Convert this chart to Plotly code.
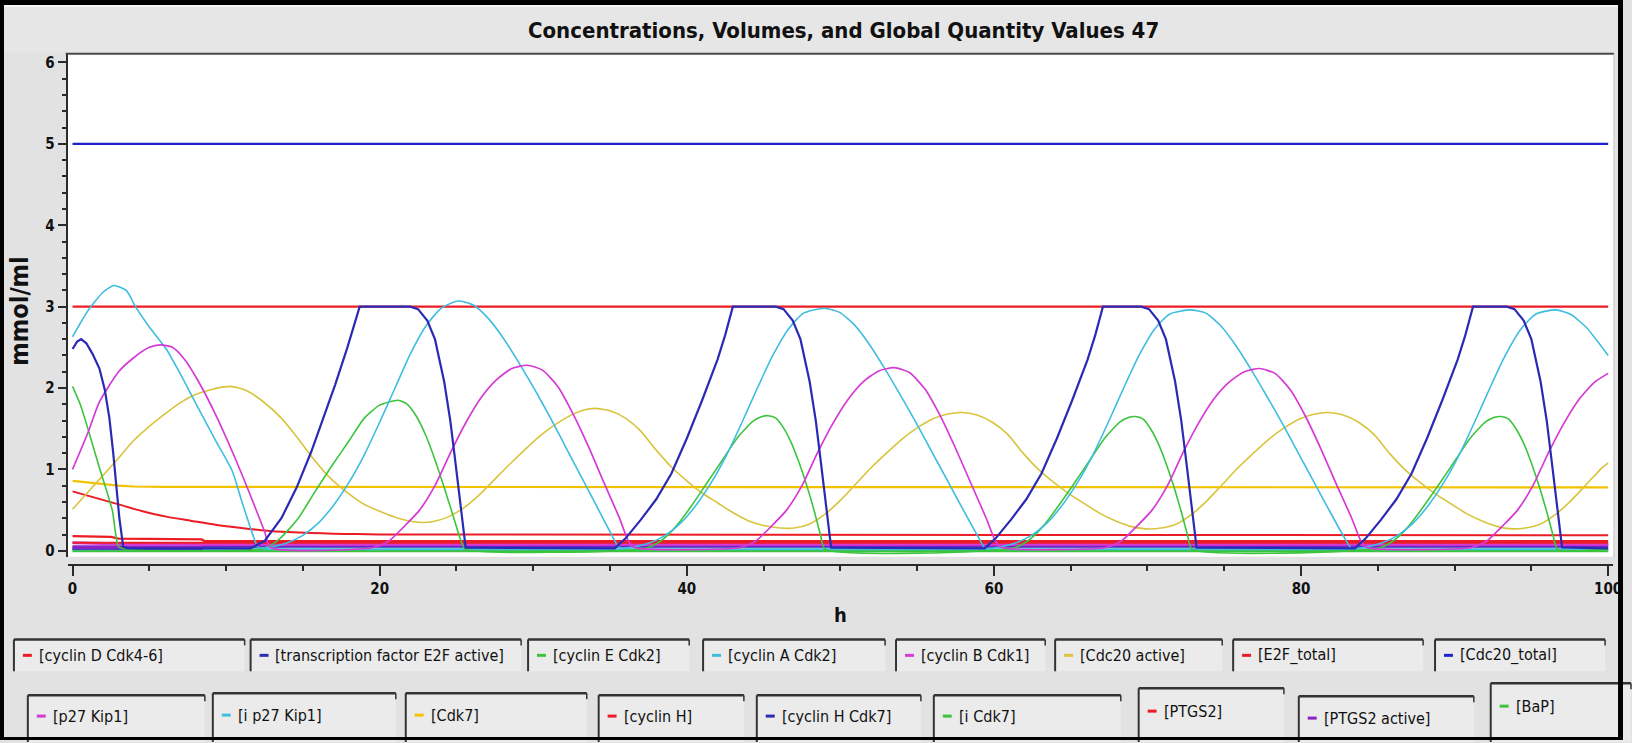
import plotly.graph_objects as go

# ---------------- time courses (h, mmol/ml) ----------------
t_cycd = [0, 1.5, 3, 4.5, 6.1, 7.7, 9.3, 11, 12.5, 14, 15.5, 17, 18.5, 20, 22, 100]
y_cycd = [0.73, 0.65, 0.57, 0.49, 0.42, 0.37, 0.32, 0.28, 0.25, 0.23, 0.22, 0.21, 0.205, 0.2, 0.2, 0.19]

t_e2f = [0, 0.3, 0.56, 0.9, 1.3, 1.75, 2.1, 2.4, 2.65, 2.83, 3.05, 3.3, 3.6, 11.6,
         12.5, 13.6, 14.6, 15.55, 16.3, 17.1, 17.9, 18.7, 22.0, 22.5, 23.1, 23.6, 24.2, 24.6, 24.9, 25.3, 25.6,
         35.3, 36.0, 37.0, 38.0, 39.0, 40.0, 41.0, 42.0, 42.5, 43.0, 45.8, 46.3, 46.9, 47.4, 48.0, 48.4, 48.7, 49.1, 49.4,
         59.4, 60.1, 61.1, 62.1, 63.1, 64.1, 65.1, 66.1, 66.6, 67.1, 69.6, 70.1, 70.7, 71.2, 71.8, 72.2, 72.5, 72.9, 73.2,
         83.5, 84.2, 85.2, 86.2, 87.2, 88.2, 89.2, 90.2, 90.7, 91.2, 93.4, 93.9, 94.5, 95.0, 95.6, 96.0, 96.3, 96.7, 97.0, 100]
y_e2f = [2.48, 2.57, 2.6, 2.55, 2.42, 2.24, 1.98, 1.63, 1.2, 0.81, 0.4, 0.05, 0.03, 0.03,
         0.12, 0.4, 0.78, 1.22, 1.62, 2.04, 2.5, 3.0, 3.0, 2.97, 2.83, 2.6, 2.08, 1.6, 1.14, 0.5, 0.04,
         0.03, 0.15, 0.38, 0.63, 0.95, 1.38, 1.85, 2.35, 2.65, 3.0, 3.0, 2.97, 2.83, 2.6, 2.08, 1.6, 1.14, 0.5, 0.04,
         0.03, 0.15, 0.38, 0.63, 0.95, 1.38, 1.85, 2.35, 2.65, 3.0, 3.0, 2.97, 2.83, 2.6, 2.08, 1.6, 1.14, 0.5, 0.04,
         0.03, 0.15, 0.38, 0.63, 0.95, 1.38, 1.85, 2.35, 2.65, 3.0, 3.0, 2.97, 2.83, 2.6, 2.08, 1.6, 1.14, 0.5, 0.04, 0.03]

t_cyce = [0, 0.5, 1, 1.75, 2.2, 2.6, 3.0, 3.5, 12.5, 13.5, 14.7, 15.7, 16.8, 18, 19, 20, 21.2, 21.8, 22.4, 23,
          23.6, 24.2, 24.8, 25.3, 25.6, 37.3, 38.3, 39.3, 40.3, 41.3, 42.3, 43.3, 44.3, 44.9, 45.3, 45.8, 46.3,
          46.8, 47.3, 47.8, 48.3, 48.7, 49.0, 61.2, 62.2, 63.2, 64.2, 65.2, 66.2, 67.2, 68.2, 68.8, 69.2, 69.7,
          70.2, 70.7, 71.2, 71.7, 72.2, 72.6, 72.9, 85.0, 86.0, 87.0, 88.0, 89.0, 90.0, 91.0, 92.0, 92.6, 93.0,
          93.5, 94.0, 94.5, 95.0, 95.5, 96.0, 96.4, 96.7, 100]
y_cyce = [2.02, 1.8, 1.5, 1.02, 0.75, 0.49, 0.05, 0.02, 0.03, 0.15, 0.4, 0.7, 1.02, 1.35, 1.63, 1.79, 1.85, 1.8,
          1.65, 1.42, 1.12, 0.78, 0.42, 0.12, 0.02, 0.03, 0.12, 0.3, 0.55, 0.83, 1.11, 1.39, 1.59, 1.65, 1.66,
          1.63, 1.51, 1.33, 1.09, 0.81, 0.49, 0.2, 0.02, 0.03, 0.12, 0.3, 0.55, 0.82, 1.1, 1.38, 1.58, 1.64, 1.65,
          1.62, 1.5, 1.32, 1.08, 0.8, 0.48, 0.2, 0.02, 0.03, 0.12, 0.3, 0.55, 0.82, 1.1, 1.38, 1.58, 1.64, 1.65,
          1.62, 1.5, 1.32, 1.08, 0.8, 0.48, 0.2, 0.02, 0.02]

t_cyca = [0, 1, 2, 2.7, 3.5, 4.1, 5, 6.1, 7, 8.2, 9.3, 10.4, 11, 11.7, 12.1, 13, 14, 15, 16, 17, 18, 19, 20,
          21, 22, 23, 24, 25.1, 26.1, 27.1, 28.1, 29.1, 30.1, 31.1, 32.1, 33.1, 34.1, 35.1, 35.6, 36.6, 37.6,
          38.6, 39.6, 40.6, 41.6, 42.6, 43.6, 44.6, 45.6, 46.6, 47.6, 48.95, 49.95, 50.95, 51.95, 52.95, 53.95,
          54.95, 55.95, 56.95, 57.95, 58.95, 59.45, 60.45, 61.45, 62.45, 63.45, 64.45, 65.45, 66.45, 67.45,
          68.45, 69.45, 70.45, 71.45, 72.8, 73.8, 74.8, 75.8, 76.8, 77.8, 78.8, 79.8, 80.8, 81.8, 82.8, 83.3,
          84.3, 85.3, 86.3, 87.3, 88.3, 89.3, 90.3, 91.3, 92.3, 93.3, 94.3, 95.3, 96.6, 97.6, 98.6, 100]
y_cyca = [2.63, 2.95, 3.18, 3.26, 3.2, 3.0, 2.75, 2.48, 2.18, 1.75, 1.36, 0.98, 0.62, 0.22, 0.04, 0.05, 0.1,
          0.19, 0.34, 0.56, 0.84, 1.18, 1.58, 2.0, 2.42, 2.76, 2.98, 3.07, 3.02, 2.85, 2.6, 2.3, 1.98, 1.64, 1.28,
          0.92, 0.56, 0.2, 0.04, 0.05, 0.1, 0.19, 0.34, 0.56, 0.84, 1.18, 1.58, 2.0, 2.4, 2.72, 2.92, 2.98, 2.93,
          2.77, 2.52, 2.22, 1.9, 1.57, 1.22, 0.87, 0.52, 0.18, 0.03, 0.05, 0.1, 0.19, 0.34, 0.56, 0.84, 1.18, 1.58,
          2.0, 2.4, 2.72, 2.91, 2.96, 2.92, 2.76, 2.51, 2.21, 1.89, 1.56, 1.21, 0.86, 0.51, 0.17, 0.03, 0.05, 0.1,
          0.19, 0.34, 0.56, 0.84, 1.18, 1.58, 2.0, 2.4, 2.72, 2.91, 2.96, 2.9, 2.74, 2.4]

t_cycb = [0, 1, 1.75, 3, 3.9, 5, 5.7, 6.5, 7.3, 8.2, 9.3, 10.4, 11.5, 12.5, 12.9, 19.6, 20.6, 21.6, 22.6, 23.6,
          24.6, 25.6, 26.6, 27.6, 28.6, 29.6, 30.6, 31.6, 32.6, 33.6, 34.6, 35.6, 36.2, 36.6, 43.5, 44.5, 45.5,
          46.5, 47.5, 48.5, 49.5, 50.5, 51.5, 52.5, 53.5, 54.5, 55.5, 56.5, 57.5, 58.5, 59.5, 60.1, 60.5, 67.3,
          68.3, 69.3, 70.3, 71.3, 72.3, 73.3, 74.3, 75.3, 76.3, 77.3, 78.3, 79.3, 80.3, 81.3, 82.3, 83.3, 83.9,
          84.3, 91.1, 92.1, 93.1, 94.1, 95.1, 96.1, 97.1, 98.1, 99.1, 100]
y_cycb = [1.0, 1.45, 1.83, 2.2, 2.36, 2.5, 2.53, 2.5, 2.35, 2.08, 1.68, 1.22, 0.72, 0.24, 0.04, 0.04, 0.12, 0.3,
          0.5, 0.8, 1.2, 1.57, 1.88, 2.1, 2.24, 2.28, 2.22, 2.02, 1.68, 1.28, 0.84, 0.41, 0.12, 0.04, 0.04, 0.12,
          0.3, 0.5, 0.8, 1.2, 1.56, 1.86, 2.08, 2.21, 2.25, 2.19, 1.99, 1.66, 1.26, 0.83, 0.4, 0.12, 0.04, 0.04,
          0.12, 0.3, 0.5, 0.8, 1.2, 1.56, 1.86, 2.07, 2.2, 2.24, 2.18, 1.98, 1.65, 1.25, 0.82, 0.4, 0.12, 0.04,
          0.04, 0.12, 0.3, 0.5, 0.8, 1.2, 1.56, 1.86, 2.07, 2.18]

t_cdc20a = [0, 1, 2, 3, 3.9, 5, 6, 7.1, 8, 9, 10.3, 11.3, 12.3, 13.6, 14.6, 15.6, 16.8, 18, 19, 20.2, 21.2, 22.5,
            23.5, 24.5, 25.5, 26.5, 27.5, 28.5, 29.5, 30.5, 31.5, 32.5, 33.3, 34.0, 35, 36, 37, 38, 39, 40, 41,
            42, 43, 44, 45, 46.1, 47, 48, 49, 50, 51, 52, 53, 54, 55, 56, 57, 57.9, 58.9, 59.9, 60.9, 61.9, 62.9,
            63.9, 64.9, 65.9, 66.9, 67.9, 68.9, 69.9, 70.9, 71.9, 72.9, 73.9, 74.9, 75.9, 76.9, 77.9, 78.9, 79.9,
            80.9, 81.75, 82.75, 83.75, 84.75, 85.75, 86.75, 87.75, 88.75, 89.75, 90.75, 91.75, 92.75, 93.75,
            94.6, 95.6, 96.6, 97.6, 98.6, 99.6, 100]
y_cdc20a = [0.51, 0.72, 0.93, 1.14, 1.34, 1.53, 1.68, 1.83, 1.92, 1.98, 2.02, 1.97, 1.85, 1.63, 1.4, 1.15, 0.89,
            0.7, 0.57, 0.47, 0.4, 0.35, 0.36, 0.42, 0.53, 0.69, 0.88, 1.07, 1.25, 1.42, 1.56, 1.67, 1.73, 1.75,
            1.72, 1.63, 1.47, 1.24, 1.03, 0.86, 0.71, 0.59, 0.47, 0.37, 0.31, 0.28, 0.28, 0.33, 0.45, 0.62, 0.82,
            1.02, 1.2, 1.37, 1.51, 1.62, 1.68, 1.7, 1.67, 1.58, 1.43, 1.2, 1.0, 0.84, 0.7, 0.58, 0.46, 0.37, 0.3,
            0.27, 0.28, 0.33, 0.45, 0.62, 0.82, 1.02, 1.2, 1.37, 1.51, 1.62, 1.68, 1.7, 1.67, 1.58, 1.43, 1.2, 1.0,
            0.84, 0.7, 0.58, 0.46, 0.37, 0.3, 0.27, 0.28, 0.33, 0.45, 0.62, 0.82, 1.02, 1.08]

t_e2f_total = [0, 100]
y_e2f_total = [3.0, 3.0]

t_cdc20_total = [0, 100]
y_cdc20_total = [5.0, 5.0]

t_p27 = [0, 2, 4, 8.4, 100]
y_p27 = [0.1, 0.09, 0.08, 0.08, 0.08]

t_ip27 = [0, 100]
y_ip27 = [0.02, 0.02]

t_cdk7 = [0, 1, 2, 3, 4, 6, 100]
y_cdk7 = [0.86, 0.84, 0.82, 0.8, 0.79, 0.785, 0.78]

t_cych = [0, 2.5, 3, 8.4, 8.6, 100]
y_cych = [0.18, 0.17, 0.15, 0.14, 0.12, 0.12]

t_cychcdk7 = [0, 8.4, 8.6, 100]
y_cychcdk7 = [0.035, 0.035, 0.06, 0.06]

t_icdk7 = [0, 100]
y_icdk7 = [0.01, 0.01]

t_ptgs2 = [0, 100]
y_ptgs2 = [0.1, 0.1]

t_ptgs2a = [0, 8.4, 8.6, 100]
y_ptgs2a = [0.045, 0.045, 0.075, 0.075]

t_bap = [0, 100]
y_bap = [0.0, 0.0]

# ---------------- series: name, colour, data, width ----------------
RED, BLUE, GREEN, CYAN, MAGENTA = "#ec1c24", "#2a2ab4", "#3cc43c", "#3fbde0", "#d63ad6"
YELLOW_OSC, YELLOW_FLAT = "#d9c43c", "#f2c200"

series = [
    ("cyclin D Cdk4-6", RED, t_cycd, y_cycd, 2.0),
    ("transcription factor E2F active", BLUE, t_e2f, y_e2f, 2.2),
    ("cyclin E Cdk2", GREEN, t_cyce, y_cyce, 1.6),
    ("cyclin A Cdk2", CYAN, t_cyca, y_cyca, 1.6),
    ("cyclin B Cdk1", MAGENTA, t_cycb, y_cycb, 1.7),
    ("Cdc20 active", YELLOW_OSC, t_cdc20a, y_cdc20a, 1.6),
    ("E2F_total", RED, t_e2f_total, y_e2f_total, 2.4),
    ("Cdc20_total", "#1f1fd0", t_cdc20_total, y_cdc20_total, 2.4),
    ("p27 Kip1", MAGENTA, t_p27, y_p27, 3.0),
    ("i p27 Kip1", CYAN, t_ip27, y_ip27, 2.0),
    ("Cdk7", YELLOW_FLAT, t_cdk7, y_cdk7, 2.2),
    ("cyclin H", RED, t_cych, y_cych, 2.2),
    ("cyclin H Cdk7", BLUE, t_cychcdk7, y_cychcdk7, 3.5),
    ("i Cdk7", GREEN, t_icdk7, y_icdk7, 2.5),
    ("PTGS2", RED, t_ptgs2, y_ptgs2, 2.0),
    ("PTGS2 active", "#8a22c8", t_ptgs2a, y_ptgs2a, 4.0),
    ("BaP", GREEN, t_bap, y_bap, 3.0),
]

# draw order: flat/background lines first, oscillators on top
draw_order = [16, 13, 9, 12, 15, 8, 14, 11, 10, 6, 7, 0, 5, 2, 3, 4, 1]

W, H = 1632, 743


def px(x):
    return x / W


def py(y):
    return 1 - y / H


fig = go.Figure()
for i in draw_order:
    name, color, tx, ty, lw = series[i]
    smooth = len(tx) > 10 and name != "transcription factor E2F active"
    fig.add_trace(go.Scatter(
        x=tx, y=ty, name=name, mode="lines",
        line=dict(color=color, width=lw, shape="spline" if smooth else "linear", smoothing=0.6),
        showlegend=False, hoverinfo="x+y+name",
    ))

FONT = "DejaVu Sans Condensed, Liberation Sans Narrow, Arial Narrow, Liberation Sans, sans-serif"
AXC = "#2b2b2b"

shapes = []
annotations = []

# title bar
shapes.append(dict(type="rect", xref="paper", yref="paper", x0=px(4), x1=px(1627), y0=py(53), y1=py(5),
                   fillcolor="#e6e6e6", line=dict(width=0), layer="below"))
shapes.append(dict(type="line", xref="paper", yref="paper", x0=px(4), x1=px(1627), y0=py(6), y1=py(6),
                   line=dict(color="#f7f7f7", width=2)))
annotations.append(dict(text="Concentrations, Volumes, and Global Quantity Values 47", xref="paper", yref="paper",
                        x=px(848), y=py(31), showarrow=False, xanchor="center", yanchor="middle",
                        font=dict(family=FONT, size=22, color="#111", weight="bold")))

# plot frame (sunken look: dark top/left, light bottom/right)
shapes.append(dict(type="line", xref="paper", yref="paper", x0=px(66), x1=px(1623), y0=py(54), y1=py(54),
                   line=dict(color="#4a4a4a", width=2)))
shapes.append(dict(type="line", xref="paper", yref="paper", x0=px(1623), x1=px(1623), y0=py(54), y1=py(560),
                   line=dict(color="#d0d0d0", width=1)))

# axis titles
annotations.append(dict(text="mmol/ml", xref="paper", yref="paper", x=px(20), y=py(312), showarrow=False,
                        textangle=-90, xanchor="center", yanchor="middle",
                        font=dict(family=FONT, size=25, color="#111", weight="bold")))
annotations.append(dict(text="h", xref="paper", yref="paper", x=px(845), y=py(617), showarrow=False,
                        xanchor="center", yanchor="middle",
                        font=dict(family=FONT, size=20, color="#111", weight="bold")))

# legend boxes: (left, right, top) in pixels; row 1 then row 2
legend_boxes = [
    (14, 246, 642), (252, 524, 642), (531, 693, 642), (707, 890, 642),
    (901, 1051, 642), (1061, 1229, 642), (1240, 1431, 642), (1443, 1614, 642),
    (28, 206, 698), (214, 398, 696), (408, 590, 696), (602, 748, 698),
    (761, 926, 698), (939, 1127, 698), (1145, 1291, 691), (1306, 1482, 699), (1499, 1640, 686),
]
row_text_y = [658] * 8 + [719, 718, 718, 719, 719, 719, 714, 721, 709]
for k, ((name, color, _, _, _), (l, r, top)) in enumerate(zip(series, legend_boxes)):
    bottom = top + 32 if k < 8 else 745
    shapes.append(dict(type="rect", xref="paper", yref="paper", x0=px(l), x1=px(r), y0=py(bottom), y1=py(top),
                       fillcolor="#ebebeb", line=dict(width=0), layer="below"))
    shapes.append(dict(type="line", xref="paper", yref="paper", x0=px(l), x1=px(r), y0=py(top), y1=py(top),
                       line=dict(color="#333", width=2.5)))
    shapes.append(dict(type="line", xref="paper", yref="paper", x0=px(l), x1=px(l), y0=py(top), y1=py(bottom),
                       line=dict(color="#333", width=2)))
    shapes.append(dict(type="line", xref="paper", yref="paper", x0=px(r), x1=px(r), y0=py(top), y1=py(top + 6),
                       line=dict(color="#333", width=1.5)))
    ty = row_text_y[k]
    shapes.append(dict(type="line", xref="paper", yref="paper", x0=px(l + 9), x1=px(l + 18), y0=py(ty), y1=py(ty),
                       line=dict(color=color, width=3)))
    annotations.append(dict(text="[" + name + "]", xref="paper", yref="paper", x=px(l + 23), y=py(ty),
                            showarrow=False, xanchor="left", yanchor="middle",
                            font=dict(family=FONT, size=16, color="#111")))

# outer black frame
for x0, x1, y0, y1 in [(0, W, 0, 5), (0, W, H - 3, H), (0, 4, 0, H), (W - 5, W, 0, H)]:
    shapes.append(dict(type="rect", xref="paper", yref="paper", x0=px(x0), x1=px(x1), y0=py(y1), y1=py(y0),
                       fillcolor="#000", line=dict(width=0)))

tickfont = dict(family=FONT, size=15, color="#111", weight="bold")

fig.update_layout(
    width=W, height=H,
    margin=dict(l=0, r=0, t=0, b=0),
    paper_bgcolor="#e2e2e2",
    plot_bgcolor="#ffffff",
    showlegend=False,
    xaxis=dict(
        domain=[px(68), px(1622)], range=[-0.32, 100.32], anchor="free", position=py(567),
        showline=True, linecolor=AXC, linewidth=2, ticks="outside", ticklen=10, tickwidth=2, tickcolor=AXC,
        tickvals=[0, 20, 40, 60, 80, 100], tickfont=tickfont, showgrid=False, zeroline=False,
        minor=dict(tickvals=[5, 10, 15, 25, 30, 35, 45, 50, 55, 65, 70, 75, 85, 90, 95],
                   ticks="outside", ticklen=5, tickwidth=2, tickcolor=AXC, showgrid=False),
    ),
    yaxis=dict(
        domain=[py(559), py(54)], range=[-0.073, 6.107],
        showline=True, linecolor=AXC, linewidth=2, ticks="outside", ticklen=8, tickwidth=2, tickcolor=AXC,
        tickvals=[0, 1, 2, 3, 4, 5, 6], tickfont=tickfont, showgrid=False, zeroline=False,
        minor=dict(dtick=0.2, ticks="outside", ticklen=4, tickwidth=1.5, tickcolor=AXC, showgrid=False),
    ),
    shapes=shapes,
    annotations=annotations,
)

fig.write_html("out.html")
